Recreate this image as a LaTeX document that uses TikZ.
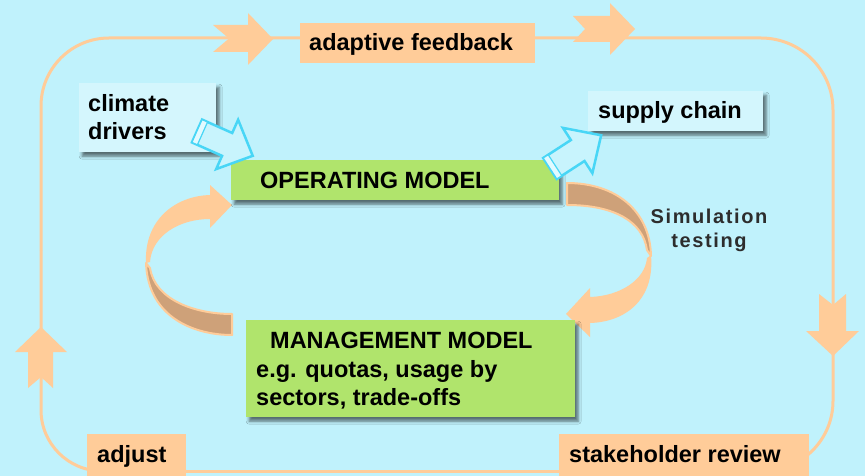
\documentclass[tikz,border=0pt]{standalone}
\usepackage{fontspec}
\setmainfont{Liberation Sans}
\newfontfamily\simfont[LetterSpace=8]{Liberation Sans}
\usetikzlibrary{shadows.blur}
\definecolor{bgc}{RGB}{192,242,252}
\definecolor{peach}{RGB}{255,204,153}
\definecolor{ribbontan}{RGB}{206,161,121}
\definecolor{leaf}{RGB}{176,228,108}
\definecolor{aqua}{RGB}{72,214,246}
\definecolor{paleaqua}{RGB}{212,246,253}
\definecolor{arrfill}{RGB}{200,244,253}
\definecolor{bandfill}{RGB}{226,250,255}
\definecolor{simgray}{RGB}{45,45,45}
\tikzset{
  box/.style={rectangle, inner sep=0pt, anchor=north west},
  peachbox/.style={box, fill=peach},
  shadowed/.style={blur shadow={shadow xshift=3pt, shadow yshift=-4pt, shadow blur radius=3pt, shadow opacity=55}},
  greenbox/.style={box, fill=leaf, shadowed},
  aquabox/.style={box, fill=paleaqua, shadowed},
  lbl/.style={anchor=base west, inner sep=0pt, text=black},
  simlbl/.style={anchor=base, inner sep=0pt, text=simgray, font=\simfont\bfseries\fontsize{20}{24}\selectfont},
  loopline/.style={draw=peach, line width=3pt},
  loophead/.style={fill=peach},
  ribbonback/.style={fill=ribbontan, draw=peach, line width=2pt, line join=round},
  ribbonfront/.style={fill=peach},
  bluearr/.style={fill=arrfill, draw=aqua, line width=2.5pt, line join=miter},
  blueband/.style={fill=bandfill, draw=aqua, line width=1.2pt},
  hollowarr/.pic={
    \filldraw[bluearr] (0,-12.5) -- (33,-12.5) -- (33,-27) -- (61,0) -- (33,27) -- (33,12.5) -- (0,12.5) -- cycle;
    \filldraw[blueband] (0,-12.5) -- (6,-12.5) -- (6,12.5) -- (0,12.5) -- cycle;
  }
}
\begin{document}
\begin{tikzpicture}[x=1pt,y=-1pt,font=\bfseries\fontsize{23.5}{28}\selectfont]
\useasboundingbox (0,0) rectangle (865,476);
\fill[bgc] (0,0) rectangle (865,476);

% points where the loop meets the peach boxes
\coordinate (fbW) at (300,38);
\coordinate (fbE) at (535,38);
\coordinate (srW) at (559,471);
\coordinate (adjE) at (186,471);
\coordinate (lmid) at (41,250);
\coordinate (rmid) at (833,250);

% big feedback loop
\draw[loopline, rounded corners=68pt] (lmid) -- (41,38) -- (fbW);
\draw[loopline, rounded corners=72pt] (fbE) -- (833,38) -- (rmid);
\draw[loopline, rounded corners=70pt] (rmid) -- (833,471) -- (srW);
\draw[loopline] (srW) -- (adjE);
\draw[loopline, rounded corners=61pt] (adjE) -- (41,471) -- (lmid);

% peach boxes on the loop
\node[peachbox, minimum width=235pt, minimum height=40pt] (fb) at (300,23) {};
\node[peachbox, minimum width=99pt, minimum height=46pt] (adj) at (87,434) {};
\node[peachbox, minimum width=250pt, minimum height=46pt] (sr) at (559,434) {};

% loop arrowheads
\fill[loophead] (213,25) -- (248,25) -- (248,13) -- (273,39) -- (248,65) -- (248,52) -- (213,52) -- (229,38.5) -- cycle;
\fill[loophead] (573,16) -- (610,16) -- (610,3) -- (635,29) -- (610,55) -- (610,42) -- (573,42) -- (585,29) -- cycle;
\fill[loophead] (41,327) -- (67,352) -- (53,352) -- (53,388) -- (41,377) -- (28,388) -- (28,352) -- (15,352) -- cycle;
\fill[loophead] (819,294) -- (833,305) -- (846,294) -- (846,331) -- (859,331) -- (833,356) -- (806,331) -- (819,331) -- cycle;

% curved ribbon arrows
\filldraw[ribbonback] (146,263) .. controls (148,318) and (195,335) .. (232,335) -- (232,314) .. controls (195,314) and (155,300) .. (150,268) -- cycle;
\fill[ribbonfront] (146,263) .. controls (144,220) and (175,196) .. (210,195) -- (210,185) -- (232,205) -- (210,228) -- (210,219) .. controls (180,219) and (152,235) .. (150,262) -- cycle;
\filldraw[ribbonback] (567,183) .. controls (615,183) and (650,210) .. (651,256) -- (647,250) .. controls (643,222) and (615,205) .. (567,205) -- cycle;
\fill[ribbonfront] (651,255) .. controls (655,300) and (625,322) .. (590,323) -- (590,337) -- (566,314) -- (590,288) -- (590,297) .. controls (620,296) and (645,280) .. (647,258) -- cycle;

% model and driver boxes
\node[aquabox, minimum width=137pt, minimum height=69pt] (cd) at (79,83) {};
\node[aquabox, fill=bgc!70!white, minimum width=175pt, minimum height=40pt] (sc) at (588,91) {};
\node[greenbox, minimum width=328pt, minimum height=40pt] (om) at (231,160) {};
\node[greenbox, minimum width=329pt, minimum height=97pt] (mm) at (246,320) {};

% hollow blue arrows
\pic[rotate=-24] at (197,131) {hollowarr};
\pic[rotate=33] at (550,168.5) {hollowarr};

% texts
\node[lbl] (fbt) at (309,51) {adaptive feedback};
\node[lbl] (cdt1) at (88,112) {climate};
\node[lbl] (cdt2) at (88,140) {drivers};
\node[lbl] (sct) at (598,119) {supply chain};
\node[lbl] (omt) at (260,188) {OPERATING MODEL};
\node[lbl] (mmt1) at (270,348) {MANAGEMENT MODEL};
\node[lbl] (mmt2) at (256,377) {e.g. quotas, usage by};
\node[lbl] (mmt3) at (256,405) {sectors, trade-offs};
\node[lbl] (adjt) at (97,462) {adjust};
\node[lbl] (srt) at (569,462) {stakeholder review};
\node[simlbl] (sim1) at (709,223) {Simulation};
\node[simlbl] (sim2) at (709,247) {testing};
\end{tikzpicture}
\end{document}
